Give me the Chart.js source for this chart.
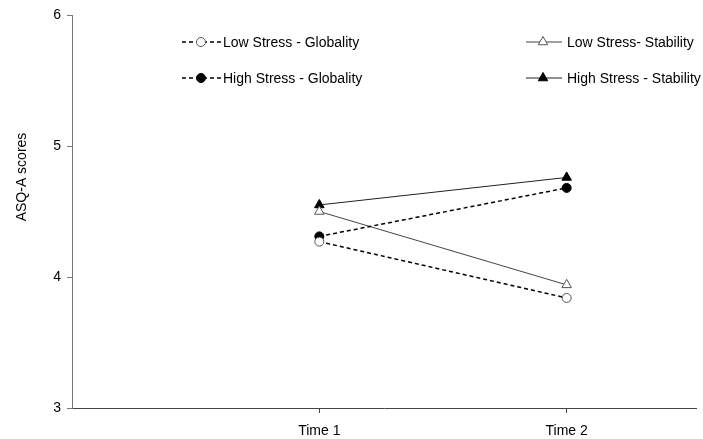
<!DOCTYPE html>
<html>
  <head>
    <meta charset="utf-8"/>
    <style type="text/css">
      body {
        margin: 0px;
        padding: 0px;
        background: #ffffff;
        overflow: hidden;
      }
      #container {
        width: 703px;
        height: 439px;
        position: relative;
      }
    </style>
  </head>
  <body>
    <div id="container"><canvas id="chart"></canvas></div>
  </body>
  <script src="https://cdn.jsdelivr.net/npm/chart.js@4/dist/chart.umd.min.js"></script>
  <script>
    // data
    var timeLabels = ['Time 1', 'Time 2'];
    var timePos = [1, 2];
    var yTicks = [3, 4, 5, 6];
    var seriesNames = ['Low Stress - Globality', 'High Stress - Globality', 'Low Stress- Stability', 'High Stress - Stability'];
    var lowGlobality = [4.27, 3.84];
    var highGlobality = [4.31, 4.68];
    var lowStability = [4.50, 3.94];
    var highStability = [4.55, 4.76];
    var yTitle = 'ASQ-A scores';

    var FONT = '"Liberation Sans", Arial, sans-serif';
    Chart.defaults.font.family = FONT;
    Chart.defaults.color = '#000';

    function pts(vals) {
      return vals.map(function(v, i){ return {x: timePos[i], y: v}; });
    }

    var datasets = [
      {label: seriesNames[0], data: pts(lowGlobality), borderColor: '#000', borderWidth: 1.5, borderDash: [4, 3],
       pointStyle: 'circle', pointRadius: 4.5, pointBackgroundColor: '#fff', pointBorderColor: '#555', pointBorderWidth: 1},
      {label: seriesNames[1], data: pts(highGlobality), borderColor: '#000', borderWidth: 1.5, borderDash: [4, 3],
       pointStyle: 'circle', pointRadius: 4.5, pointBackgroundColor: '#000', pointBorderColor: '#000', pointBorderWidth: 1},
      {label: seriesNames[2], data: pts(lowStability), borderColor: '#444', borderWidth: 1,
       pointStyle: 'triangle', pointRadius: 5.5, pointBackgroundColor: '#fff', pointBorderColor: '#555', pointBorderWidth: 1},
      {label: seriesNames[3], data: pts(highStability), borderColor: '#222', borderWidth: 1,
       pointStyle: 'triangle', pointRadius: 5.5, pointBackgroundColor: '#000', pointBorderColor: '#000', pointBorderWidth: 1}
    ];

    // legend in two columns, drawn by hand
    var legendSlots = [
      {x1: 182, x2: 221, mx: 201, tx: 223, y: 42},
      {x1: 182, x2: 221, mx: 201, tx: 223, y: 78},
      {x1: 526, x2: 562, mx: 543, tx: 567, y: 42},
      {x1: 526, x2: 562, mx: 543, tx: 567, y: 78}
    ];

    function marker(ctx, ds, x, y) {
      var r = ds.pointRadius;
      ctx.save();
      ctx.setLineDash([]);
      ctx.lineWidth = ds.pointBorderWidth;
      ctx.strokeStyle = ds.pointBorderColor;
      ctx.fillStyle = ds.pointBackgroundColor;
      ctx.beginPath();
      if (ds.pointStyle === 'circle') {
        ctx.arc(x, y, r, 0, Math.PI * 2);
      } else {
        var a = 0;
        for (var k = 0; k < 3; k++) {
          var px = x + Math.sin(a) * r, py = y - Math.cos(a) * r;
          if (k === 0) ctx.moveTo(px, py); else ctx.lineTo(px, py);
          a += Math.PI * 2 / 3;
        }
        ctx.closePath();
      }
      ctx.fill();
      ctx.stroke();
      ctx.restore();
    }

    var extras = {
      id: 'extras',
      afterDraw: function(chart) {
        var ctx = chart.ctx;
        ctx.save();
        // y title
        ctx.translate(22, 177);
        ctx.rotate(-Math.PI / 2);
        ctx.font = '14px ' + FONT;
        ctx.fillStyle = '#000';
        ctx.textAlign = 'center';
        ctx.textBaseline = 'middle';
        ctx.fillText(yTitle, 0, 0);
        ctx.restore();

        chart.data.datasets.forEach(function(ds, i){
          var s = legendSlots[i];
          ctx.save();
          ctx.strokeStyle = ds.borderColor;
          ctx.lineWidth = ds.borderWidth;
          ctx.setLineDash(ds.borderDash || []);
          ctx.beginPath();
          ctx.moveTo(s.x1, s.y);
          ctx.lineTo(s.x2, s.y);
          ctx.stroke();
          ctx.restore();
          marker(ctx, ds, s.mx, s.y);
          ctx.save();
          ctx.font = '14px ' + FONT;
          ctx.fillStyle = '#000';
          ctx.textBaseline = 'middle';
          ctx.fillText(ds.label, s.tx, s.y + 1);
          ctx.restore();
        });
      }
    };

    new Chart(document.getElementById('chart'), {
      type: 'line',
      data: {datasets: datasets},
      plugins: [extras],
      options: {
        responsive: true,
        maintainAspectRatio: false,
        animation: false,
        layout: {padding: {top: 15, right: 0, left: 0, bottom: 0}},
        plugins: {legend: {display: false}, tooltip: {enabled: false}},
        scales: {
          x: {
            type: 'linear',
            min: 0,
            max: 2.525,
            afterBuildTicks: function(scale){
              scale.ticks = timePos.map(function(v){ return {value: v}; });
            },
            afterFit: function(scale){ scale.height = 31; },
            ticks: {
              font: {size: 14},
              color: '#000',
              padding: 10,
              autoSkip: false,
              maxRotation: 0,
              callback: function(v){
                var i = timePos.indexOf(v);
                return i >= 0 ? timeLabels[i] : '';
              }
            },
            grid: {display: true, drawOnChartArea: false, drawTicks: true, tickLength: 5, color: '#444'},
            border: {display: true, color: '#444', width: 1}
          },
          y: {
            min: 3,
            max: 6,
            afterBuildTicks: function(scale){
              scale.ticks = yTicks.map(function(v){ return {value: v}; });
            },
            afterFit: function(scale){ scale.width = 72; },
            ticks: {font: {size: 14}, color: '#000', padding: 6},
            grid: {display: true, drawOnChartArea: false, drawTicks: true, tickLength: 5, color: '#777'},
            border: {display: true, color: '#777', width: 1}
          }
        }
      }
    });
  </script>
</html>
